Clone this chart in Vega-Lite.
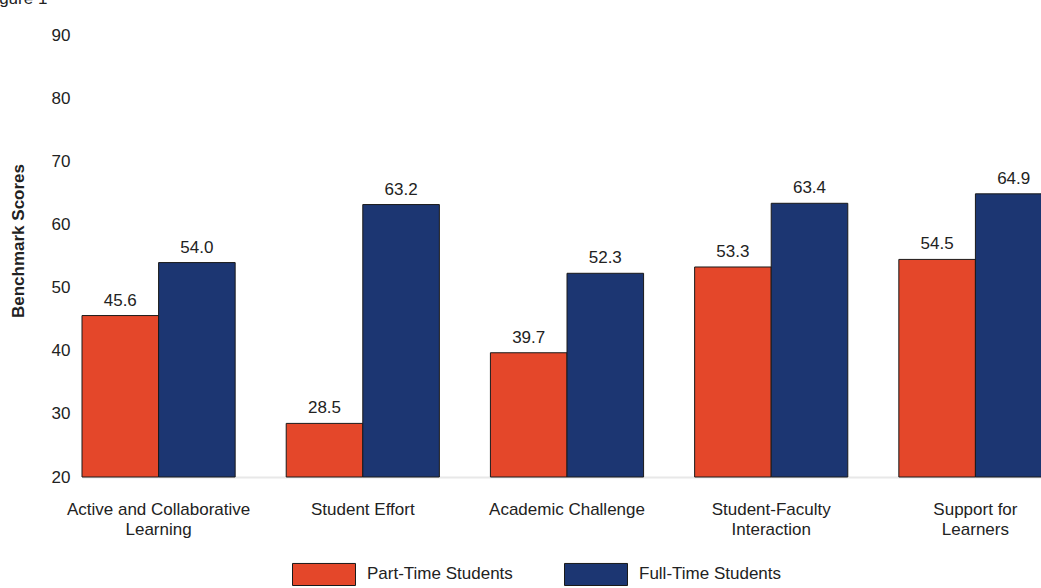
{
  "$schema": "https://vega.github.io/schema/vega-lite/v6.json",
  "width": 959,
  "height": 473,
  "autosize": {"type": "none"},
  "padding": {"left": 82, "top": 4, "right": 0, "bottom": 111},
  "background": "white",
  "title": {
    "text": "Figure 1",
    "anchor": "start",
    "frame": "group",
    "baseline": "alphabetic",
    "dx": -97,
    "offset": -17,
    "font": "Liberation Sans",
    "fontSize": 17,
    "fontWeight": "normal",
    "color": "#222"
  },
  "config": {
    "view": {"stroke": null},
    "font": "Liberation Sans",
    "axis": {"labelFont": "Liberation Sans", "titleFont": "Liberation Sans", "labelColor": "#222", "titleColor": "#222"}
  },
  "data": {
    "values": [
      {"benchmark": "Active and Collaborative|Learning", "group": "Part-Time Students", "score": 45.6},
      {"benchmark": "Active and Collaborative|Learning", "group": "Full-Time Students", "score": 54.0},
      {"benchmark": "Student Effort", "group": "Part-Time Students", "score": 28.5},
      {"benchmark": "Student Effort", "group": "Full-Time Students", "score": 63.2},
      {"benchmark": "Academic Challenge", "group": "Part-Time Students", "score": 39.7},
      {"benchmark": "Academic Challenge", "group": "Full-Time Students", "score": 52.3},
      {"benchmark": "Student-Faculty|Interaction", "group": "Part-Time Students", "score": 53.3},
      {"benchmark": "Student-Faculty|Interaction", "group": "Full-Time Students", "score": 63.4},
      {"benchmark": "Support for|Learners", "group": "Part-Time Students", "score": 54.5},
      {"benchmark": "Support for|Learners", "group": "Full-Time Students", "score": 64.9}
    ]
  },
  "encoding": {
    "x": {
      "field": "benchmark",
      "type": "nominal",
      "sort": null,
      "title": null,
      "scale": {"paddingInner": 0.25, "paddingOuter": 0, "range": [0, 970]},
      "axis": {
        "labelAngle": 0,
        "labelExpr": "split(datum.label, '|')",
        "labelFontSize": 17,
        "labelLineHeight": 20,
        "labelPadding": 24,
        "labelBaseline": "top",
        "labelLimit": 300,
        "ticks": false,
        "domain": true,
        "domainColor": "#e8e8e8",
        "domainWidth": 2
      }
    },
    "xOffset": {
      "field": "group",
      "type": "nominal",
      "sort": ["Part-Time Students", "Full-Time Students"],
      "scale": {"paddingInner": 0, "paddingOuter": 0}
    },
    "y": {
      "field": "score",
      "type": "quantitative",
      "title": "Benchmark Scores",
      "scale": {"domain": [20, 95], "nice": false, "zero": false},
      "axis": {
        "values": [20, 30, 40, 50, 60, 70, 80, 90],
        "grid": false,
        "domain": false,
        "ticks": false,
        "labelFontSize": 17,
        "labelPadding": 12,
        "titleFontSize": 17,
        "titleFontWeight": "bold",
        "titlePadding": 24
      }
    }
  },
  "layer": [
    {
      "mark": {"type": "bar", "stroke": "#1a1a1a", "strokeWidth": 1},
      "encoding": {
        "y2": {"datum": 20},
        "color": {
          "field": "group",
          "type": "nominal",
          "sort": ["Part-Time Students", "Full-Time Students"],
          "scale": {"domain": ["Part-Time Students", "Full-Time Students"], "range": ["#e4472a", "#1c3672"]},
          "legend": {
            "title": null,
            "orient": "none",
            "legendX": 210,
            "legendY": 538,
            "direction": "horizontal",
            "columns": 2,
            "columnPadding": 49,
            "symbolType": "M-1,-0.35H1V0.35H-1Z",
            "symbolSize": 3969,
            "symbolStrokeColor": "#1a1a1a",
            "symbolStrokeWidth": 1,
            "symbolOpacity": 1,
            "labelFontSize": 17,
            "labelFont": "Liberation Sans",
            "labelColor": "#222",
            "labelOffset": 11,
            "labelLimit": 300
          }
        }
      }
    },
    {
      "mark": {"type": "text", "baseline": "alphabetic", "dy": -10, "fontSize": 17, "font": "Liberation Sans", "color": "#222"},
      "encoding": {
        "text": {"field": "score", "type": "quantitative", "format": ".1f"}
      }
    }
  ]
}
